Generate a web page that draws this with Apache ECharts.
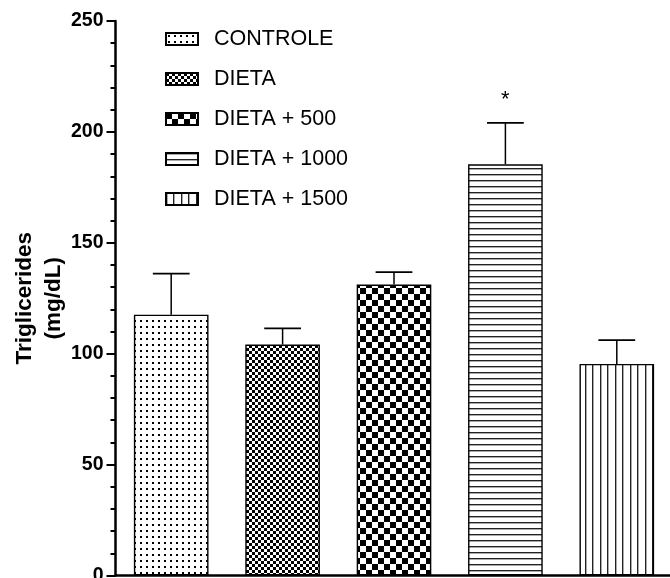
<!DOCTYPE html>
<html><head><meta charset="utf-8">
<script src="https://cdn.jsdelivr.net/npm/echarts@6/dist/echarts.min.js"></script>
<style>html,body{margin:0;padding:0;background:#fff}#c{width:670px;height:578px}</style>
</head><body><div id="c"></div>
<script>
const categories = ['CONTROLE', 'DIETA', 'DIETA + 500', 'DIETA + 1000', 'DIETA + 1500'];
const means = [117.6, 104.1, 131.2, 185.4, 95.4];
const errors = [18.5, 7.3, 5.6, 18.7, 10.7];
const sigMarks = ['', '', '', '*', ''];
const yTicks = [0, 50, 100, 150, 200, 250];

function makePattern(kind) {
  const c = document.createElement('canvas');
  let w = 6, h = 6;
  if (kind === 'coarse') { w = 12; h = 12; }
  if (kind === 'hlines') { w = 8; h = 6; }
  if (kind === 'vlines') { w = 15; h = 8; }
  c.width = w; c.height = h;
  const g = c.getContext('2d');
  g.fillStyle = '#fff'; g.fillRect(0, 0, w, h);
  g.fillStyle = '#000';
  if (kind === 'dots') {
    g.fillRect(2, 2, 2, 2);
  } else if (kind === 'fine') {
    g.fillRect(0, 0, 3, 3); g.fillRect(3, 3, 3, 3);
  } else if (kind === 'coarse') {
    g.fillRect(0, 0, 6, 6); g.fillRect(6, 6, 6, 6);
  } else if (kind === 'hlines') {
    g.fillStyle = '#222'; g.fillRect(0, 0, w, 1);
    g.fillStyle = '#aaa'; g.fillRect(0, 1, w, 1);
  } else if (kind === 'vlines') {
    g.fillStyle = '#222'; g.fillRect(0, 0, 1, h); g.fillRect(7, 0, 1, h);
    g.fillStyle = '#aaa'; g.fillRect(1, 0, 1, h); g.fillRect(8, 0, 1, h);
  }
  return { image: c, repeat: 'repeat' };
}
const patternKinds = ['dots', 'fine', 'coarse', 'hlines', 'vlines'];

const chart = echarts.init(document.getElementById('c'), null, { renderer: 'canvas' });

const barSeries = categories.map((name, i) => ({
  name: name,
  type: 'bar',
  barWidth: '67%',
  barGap: '-100%',
  data: categories.map((_, j) => (j === i ? means[i] : '-')),
  itemStyle: { color: makePattern(patternKinds[i]), borderColor: '#000', borderWidth: 1.4 },
  emphasis: { disabled: true },
  z: 2
}));

const errData = categories.map((_, i) => [i, means[i], errors[i]]);

const option = {
  animation: false,
  backgroundColor: '#fff',
  grid: { left: 115.5, right: -2.5, top: 21, bottom: 2.5, containLabel: false, outerBoundsMode: 'none' },
  legend: {
    orient: 'vertical',
    left: 165,
    top: 28,
    padding: 0,
    itemWidth: 32,
    itemHeight: 12,
    itemGap: 18,
    icon: 'rect',
    data: categories,
    textStyle: { fontFamily: 'Liberation Sans, Arial', fontSize: 21.5, color: '#000', lineHeight: 20, padding: [0, 0, 0, 11] },
    selectedMode: false
  },
  xAxis: {
    type: 'category',
    data: categories,
    axisLine: { lineStyle: { color: '#000', width: 2.5 } },
    axisTick: { alignWithLabel: true, length: 5, lineStyle: { color: '#000', width: 2 } },
    axisLabel: { show: false }
  },
  yAxis: {
    type: 'value',
    min: yTicks[0],
    max: yTicks[yTicks.length - 1],
    interval: 50,
    name: 'Triglicerides\n(mg/dL)',
    nameLocation: 'middle',
    nameGap: 47,
    nameMoveOverlap: false,
    nameTextStyle: { fontFamily: 'Liberation Sans, Arial', fontWeight: 'bold', fontSize: 22.5, color: '#000', lineHeight: 29 },
    axisLine: { show: true, lineStyle: { color: '#000', width: 2.5 } },
    axisTick: { show: true, length: 9, lineStyle: { color: '#000', width: 2 } },
    minorTick: { show: true, splitNumber: 5, length: 5, lineStyle: { color: '#000', width: 2 } },
    splitLine: { show: false },
    axisLabel: { margin: 12, fontFamily: 'Liberation Sans, Arial', fontWeight: 'bold', fontSize: 19.5, color: '#000' }
  },
  series: barSeries.concat([{
    type: 'custom',
    name: 'err',
    data: errData,
    z: 3,
    clip: false,
    renderItem: function (params, api) {
      const idx = api.value(0), m = api.value(1), e = api.value(2);
      const mark = sigMarks[idx];
      const base = api.coord([idx, m]);
      const top = api.coord([idx, m + e]);
      const band = api.size([1, 0])[0];
      const half = band * 0.165;
      const children = [
        { type: 'line', shape: { x1: base[0], y1: base[1], x2: top[0], y2: top[1] }, style: { stroke: '#000', lineWidth: 1.5 } },
        { type: 'line', shape: { x1: top[0] - half, y1: top[1], x2: top[0] + half, y2: top[1] }, style: { stroke: '#000', lineWidth: 1.8 } }
      ];
      if (mark) {
        children.push({ type: 'text', style: { text: mark, x: top[0], y: top[1] - 23, align: 'center', verticalAlign: 'middle', font: '22px "Liberation Sans", Arial', fill: '#000' } });
      }
      return { type: 'group', children: children };
    }
  }])
};
chart.setOption(option);
</script></body></html>
